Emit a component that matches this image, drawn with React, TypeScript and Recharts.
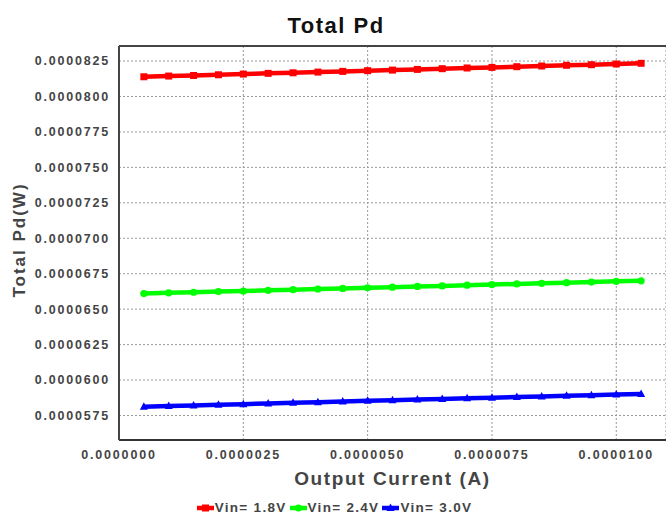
import React from 'react';
import { LineChart, Line, XAxis, YAxis, CartesianGrid, ReferenceLine } from 'recharts';

// output current (A)
const current = [
  0.0000005, 0.000001, 0.0000015, 0.000002, 0.0000025, 0.000003, 0.0000035,
  0.000004, 0.0000045, 0.000005, 0.0000055, 0.000006, 0.0000065, 0.000007,
  0.0000075, 0.000008, 0.0000085, 0.000009, 0.0000095, 0.00001, 0.0000105,
];

// total Pd (W)
const vin18 = [
  8.139e-5, 8.144e-5, 8.148e-5, 8.153e-5, 8.158e-5, 8.163e-5, 8.167e-5,
  8.172e-5, 8.177e-5, 8.182e-5, 8.186e-5, 8.191e-5, 8.196e-5, 8.201e-5,
  8.205e-5, 8.21e-5, 8.215e-5, 8.22e-5, 8.224e-5, 8.229e-5, 8.234e-5,
];
const vin24 = [
  6.61e-5, 6.615e-5, 6.619e-5, 6.624e-5, 6.628e-5, 6.633e-5, 6.637e-5,
  6.642e-5, 6.646e-5, 6.651e-5, 6.655e-5, 6.66e-5, 6.664e-5, 6.669e-5,
  6.673e-5, 6.678e-5, 6.682e-5, 6.687e-5, 6.691e-5, 6.696e-5, 6.7e-5,
];
const vin30 = [
  5.812e-5, 5.817e-5, 5.821e-5, 5.826e-5, 5.83e-5, 5.835e-5, 5.839e-5,
  5.844e-5, 5.848e-5, 5.853e-5, 5.857e-5, 5.862e-5, 5.866e-5, 5.871e-5,
  5.875e-5, 5.88e-5, 5.884e-5, 5.889e-5, 5.893e-5, 5.898e-5, 5.902e-5,
];

const xTicks = [0, 0.0000025, 0.000005, 0.0000075, 0.00001];
const yTicks = [
  0.0000575, 0.00006, 0.0000625, 0.000065, 0.0000675, 0.00007,
  0.0000725, 0.000075, 0.0000775, 0.00008, 0.0000825,
];
const yMin = 0.00005577;
const yMax = 0.00008356;

const series = [
  { key: 'v18', name: 'Vin= 1.8V', color: '#ff0000', shape: 'square' },
  { key: 'v24', name: 'Vin= 2.4V', color: '#00ff00', shape: 'circle' },
  { key: 'v30', name: 'Vin= 3.0V', color: '#0000ff', shape: 'triangle' },
];

const data = current.map((x, i) => ({ x, v18: vin18[i], v24: vin24[i], v30: vin30[i] }));

const font = 'Liberation Sans, Arial, sans-serif';
const fmt = (v: number) => v.toFixed(7);

const marker = (shape: string, color: string, cx: number, cy: number, key?: string) => {
  if (shape === 'square')
    return <rect key={key} x={cx - 3.5} y={cy - 3.5} width={7} height={7} fill={color} />;
  if (shape === 'circle') return <circle key={key} cx={cx} cy={cy} r={3.6} fill={color} />;
  return (
    <polygon
      key={key}
      points={`${cx},${cy - 4.5} ${cx + 4},${cy + 3} ${cx - 4},${cy + 3}`}
      fill={color}
    />
  );
};

const tickStyle = {
  fill: '#444',
  fontSize: 12.5,
  fontWeight: 'bold',
  fontFamily: font,
  letterSpacing: 1.8,
};

export default function App() {
  return (
    <div style={{ position: 'absolute', left: 0, top: 0, width: 666, height: 518, background: '#fff' }}>
      <LineChart width={666} height={518} data={data} margin={{ top: 46, right: 0, left: 0, bottom: 18 }}>
        <CartesianGrid stroke="#999" strokeDasharray="2 2" />
        <XAxis
          dataKey="x"
          type="number"
          domain={[0, 0.000011]}
          ticks={xTicks}
          tickFormatter={fmt}
          tickSize={0}
          tickMargin={10}
          height={60}
          axisLine={{ stroke: '#333', strokeWidth: 2 }}
          tick={tickStyle}
          label={{
            value: 'Output Current (A)',
            position: 'insideBottom',
            offset: 15,
            fill: '#444',
            fontSize: 19,
            fontWeight: 'bold',
            fontFamily: font,
            letterSpacing: 1.6,
          }}
        />
        <YAxis
          type="number"
          domain={[yMin, yMax]}
          ticks={yTicks}
          tickFormatter={fmt}
          tickSize={0}
          tickMargin={9}
          width={119}
          axisLine={{ stroke: '#444', strokeWidth: 2 }}
          tick={tickStyle}
        />
        <ReferenceLine y={yMax} stroke="#444" strokeWidth={2} />
        {series.map((s) => (
          <Line
            key={s.key}
            type="linear"
            dataKey={s.key}
            stroke={s.color}
            strokeWidth={4.5}
            isAnimationActive={false}
            dot={(p: any) => marker(s.shape, s.color, p.cx, p.cy, `${s.key}-${p.index}`)}
          />
        ))}
      </LineChart>

      <svg width={666} height={518} style={{ position: 'absolute', left: 0, top: 0, pointerEvents: 'none' }}>
        <text x={336} y={33.3} textAnchor="middle" fontFamily={font} fontWeight="bold" fontSize={22} letterSpacing={1.5} fill="#111">
          Total Pd
        </text>
        <text
          x={25}
          y={240}
          transform="rotate(-90, 25, 240)"
          textAnchor="middle"
          fontFamily={font}
          fontWeight="bold"
          fontSize={17}
          letterSpacing={2}
          fill="#444"
        >
          Total Pd(W)
        </text>
      </svg>

      <div
        style={{
          position: 'absolute',
          left: 0,
          top: 501,
          width: 672,
          display: 'flex',
          justifyContent: 'center',
          fontFamily: font,
          fontWeight: 'bold',
          fontSize: 13.5,
          lineHeight: '14px',
          letterSpacing: 1.3,
          color: '#444',
        }}
      >
        {series.map((s) => (
          <div key={s.key} style={{ display: 'flex', alignItems: 'center', marginRight: 3 }}>
            <svg width={17} height={10} style={{ marginRight: 1 }}>
              <line x1={0} y1={5} x2={17} y2={5} stroke={s.color} strokeWidth={4.5} />
              {marker(s.shape, s.color, 8.5, 5)}
            </svg>
            <span>{s.name}</span>
          </div>
        ))}
      </div>
    </div>
  );
}
